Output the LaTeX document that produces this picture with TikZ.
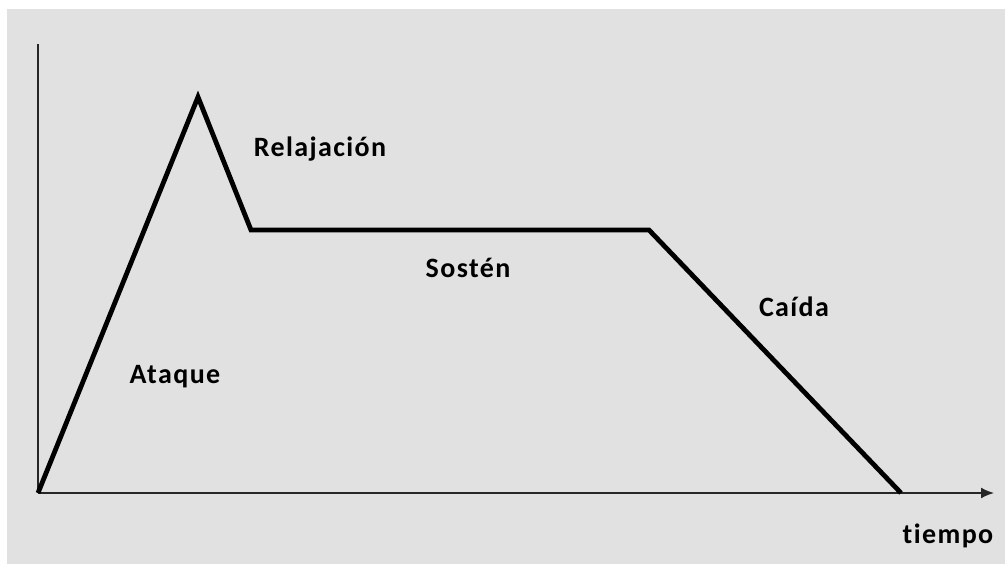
\documentclass[tikz,border=0pt]{standalone}
\usepackage{fontspec}
\setmainfont{Carlito}[LetterSpace=5, Ligatures={CommonOff}]
\usepackage{xcolor}
\usetikzlibrary{arrows.meta}

\definecolor{bggray}{HTML}{E1E1E1}

\begin{document}
\begin{tikzpicture}[
    x=1pt, y=-1pt,
    every node/.style={font=\fontsize{28}{31}\selectfont\bfseries, inner sep=0pt, anchor=base},
    axis/.style={draw=black!85, line width=1.9pt},
    envelope/.style={draw=black, line width=4.8pt, line join=miter}
]

% Background
\fill[white] (0,0) rectangle (1005,564);
\fill[bggray] (7,9) rectangle (1005,564);
\useasboundingbox (0,0) rectangle (1005,564);

% Points
\coordinate (origin) at (38,493);
\coordinate (ytop) at (38,44);
\coordinate (xend) at (994,493);
\coordinate (peak) at (198,97);
\coordinate (relax) at (251,230);
\coordinate (sustend) at (649,230);
\coordinate (relend) at (901,493);

% Axes
\draw[axis] (origin) -- (ytop);
\draw[axis, -{Latex[length=13pt, width=11pt]}] (origin) -- (xend);

% Envelope
\draw[envelope] (origin) -- (peak) -- (relax) -- (sustend) -- (relend);

% Labels
\node (ataque) at (175,383) {Ataque};
\node (relajacion) at (320,157) {Relajación};
\node (sosten) at (468,278) {Sostén};
\node (caida) at (794,317) {Caída};
\node (tiempo) at (948,543) {tiempo};

\end{tikzpicture}
\end{document}
